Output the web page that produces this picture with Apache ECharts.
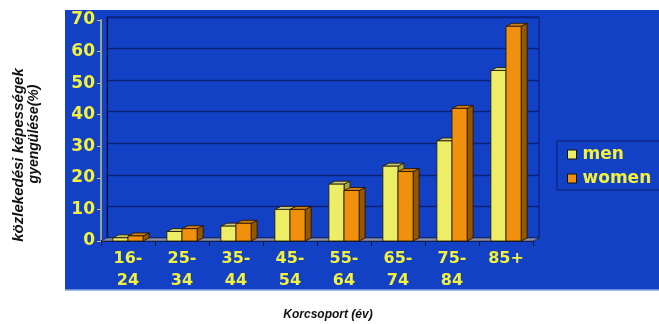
<!DOCTYPE html>
<html>
<head>
<meta charset="utf-8">
<script src="https://cdn.jsdelivr.net/npm/echarts@6/dist/echarts.min.js"></script>
<style>
  html, body { margin: 0; padding: 0; background: #ffffff; }
  #chart { width: 659px; height: 324px; }
</style>
</head>
<body>
<div id="chart"></div>
<script>
// Age groups and share of people with weakened mobility (%)
const categories = ['16-\n24', '25-\n34', '35-\n44', '45-\n54', '55-\n64', '65-\n74', '75-\n84', '85+'];
const menValues = [1, 3, 4.7, 10, 18, 23.7, 31.7, 54];
const womenValues = [1.6, 3.9, 5.6, 10, 16, 22, 42, 68];
const yTicks = { min: 0, max: 70, interval: 10 };

const PANEL = '#1241c6';
const YELLOW = '#f2f23c';
const GRIDLINE = '#08217a';
const DEPTH_X = 6, DEPTH_Y = -3;

const palette = {
  men:   { front: '#eeee66', top: '#c9c972', side: '#a6a63e' },
  women: { front: '#f0900c', top: '#d27c12', side: '#985600' }
};

// 3D-looking bar: front face, top face and right side face
function renderBar(params, api) {
  const cat = api.value(0);
  const val = api.value(1);
  const base = api.coord([cat, 0]);
  const top = api.coord([cat, val]);
  const band = api.size([1, 0])[0];
  const w = band * 0.28;
  const isMen = params.seriesName === 'men';
  const c = palette[isMen ? 'men' : 'women'];
  const x0 = isMen ? base[0] - w : base[0];
  const x1 = x0 + w;
  const yT = top[1], yB = base[1];
  const stroke = { stroke: '#1a1200', lineWidth: 0.8 };
  return {
    type: 'group',
    children: [
      { type: 'polygon', shape: { points: [[x1, yT], [x1 + DEPTH_X, yT + DEPTH_Y], [x1 + DEPTH_X, yB + DEPTH_Y], [x1, yB]] },
        style: Object.assign({ fill: c.side }, stroke) },
      { type: 'polygon', shape: { points: [[x0, yT], [x0 + DEPTH_X, yT + DEPTH_Y], [x1 + DEPTH_X, yT + DEPTH_Y], [x1, yT]] },
        style: Object.assign({ fill: c.top }, stroke) },
      { type: 'rect', shape: { x: x0, y: yT, width: w, height: yB - yT },
        style: Object.assign({ fill: c.front }, stroke) }
    ]
  };
}

const chart = echarts.init(document.getElementById('chart'), null, { renderer: 'canvas' });

const frontGrid = { left: 101, top: 20, width: 432, height: 221 };
const backGrid = { left: 101 + DEPTH_X, top: 20 + DEPTH_Y, width: 432, height: 221 };

chart.setOption({
  animation: false,
  backgroundColor: '#ffffff',
  grid: [
    Object.assign({ containLabel: false }, frontGrid),
    Object.assign({ containLabel: false, show: true, backgroundColor: 'transparent', borderColor: '#0a1f6a', borderWidth: 1 }, backGrid)
  ],
  xAxis: [
    {
      type: 'category', gridIndex: 0, data: categories,
      axisLine: { lineStyle: { color: '#101830', width: 1.5 } },
      axisTick: { show: true, alignWithLabel: false, length: 5, lineStyle: { color: '#101830' } },
      axisLabel: { color: YELLOW, fontFamily: 'DejaVu Sans', fontWeight: 'bold', fontSize: 16, lineHeight: 22, margin: 7, interval: 0 },
      splitLine: { show: false }
    },
    {
      type: 'category', gridIndex: 1, data: categories,
      axisLine: { show: false }, axisTick: { show: false }, axisLabel: { show: false }, splitLine: { show: false }
    }
  ],
  yAxis: [
    {
      type: 'value', gridIndex: 0, min: yTicks.min, max: yTicks.max, interval: yTicks.interval,
      axisLine: { show: true, lineStyle: { color: '#c9c27a', width: 1.5 } },
      axisTick: { show: true, length: 4, lineStyle: { color: '#c9c27a' } },
      axisLabel: { color: YELLOW, fontFamily: 'DejaVu Sans', fontWeight: 'bold', fontSize: 17, margin: 6 },
      splitLine: { show: false }
    },
    {
      type: 'value', gridIndex: 1, min: yTicks.min, max: yTicks.max, interval: yTicks.interval,
      axisLine: { show: true, lineStyle: { color: '#050a30', width: 1.2 } },
      axisTick: { show: false }, axisLabel: { show: false },
      splitLine: { show: true, lineStyle: { color: GRIDLINE, width: 1.4 } }
    }
  ],
  legend: {
    left: 557, top: 141, orient: 'vertical',
    padding: [5, 40, 3, 10], itemGap: 7,
    itemWidth: 9, itemHeight: 9,
    backgroundColor: 'transparent', borderColor: '#0a1f6a', borderWidth: 1,
    icon: 'rect',
    textStyle: { color: YELLOW, fontFamily: 'DejaVu Sans', fontWeight: 'bold', fontSize: 17, padding: [0, 0, 0, 1] },
    data: [
      { name: 'men', itemStyle: { color: palette.men.front, borderColor: '#111', borderWidth: 1 } },
      { name: 'women', itemStyle: { color: palette.women.front, borderColor: '#111', borderWidth: 1 } }
    ]
  },
  series: [
    {
      name: 'men', type: 'custom', xAxisIndex: 0, yAxisIndex: 0, z: 5,
      itemStyle: { color: palette.men.front },
      renderItem: renderBar,
      data: menValues.map((v, i) => [i, v])
    },
    {
      name: 'women', type: 'custom', xAxisIndex: 0, yAxisIndex: 0, z: 5,
      itemStyle: { color: palette.women.front },
      renderItem: renderBar,
      data: womenValues.map((v, i) => [i, v])
    }
  ]
});

// Panel background, floor strip and axis titles
const p0 = chart.convertToPixel({ xAxisIndex: 0, yAxisIndex: 0 }, [0, 0]);
const left = frontGrid.left, right = frontGrid.left + frontGrid.width, floorY = p0[1];

chart.setOption({
  graphic: [
    { type: 'rect', z: -10, silent: true, shape: { x: 65, y: 10, width: 594, height: 280 }, style: { fill: PANEL } },
    { type: 'line', z: -9, silent: true, shape: { x1: 65, y1: 290, x2: 659, y2: 290 }, style: { stroke: '#86a6e0', lineWidth: 1.5 } },
    { type: 'polygon', z: 1, silent: true,
      shape: { points: [[left, floorY], [left + DEPTH_X, floorY + DEPTH_Y], [right + DEPTH_X, floorY + DEPTH_Y], [right, floorY]] },
      style: { fill: '#8a8fa8', stroke: '#1a2040', lineWidth: 0.6 } },
    { type: 'text', z: 10, silent: true, x: 19, y: 155, rotation: Math.PI / 2,
      style: { text: 'közlekedési képességek', fill: '#111', font: 'italic bold 15px "Liberation Sans", Arial, sans-serif', align: 'center', verticalAlign: 'middle' } },
    { type: 'text', z: 10, silent: true, x: 34, y: 134, rotation: Math.PI / 2,
      style: { text: 'gyengülése(%)', fill: '#111', font: 'italic bold 14px "Liberation Sans", Arial, sans-serif', align: 'center', verticalAlign: 'middle' } },
    { type: 'text', z: 10, silent: true, x: 328, y: 315,
      style: { text: 'Korcsoport (év)', fill: '#111', font: 'italic bold 12px "Liberation Sans", Arial, sans-serif', align: 'center', verticalAlign: 'middle' } }
  ]
});
</script>
</body>
</html>
